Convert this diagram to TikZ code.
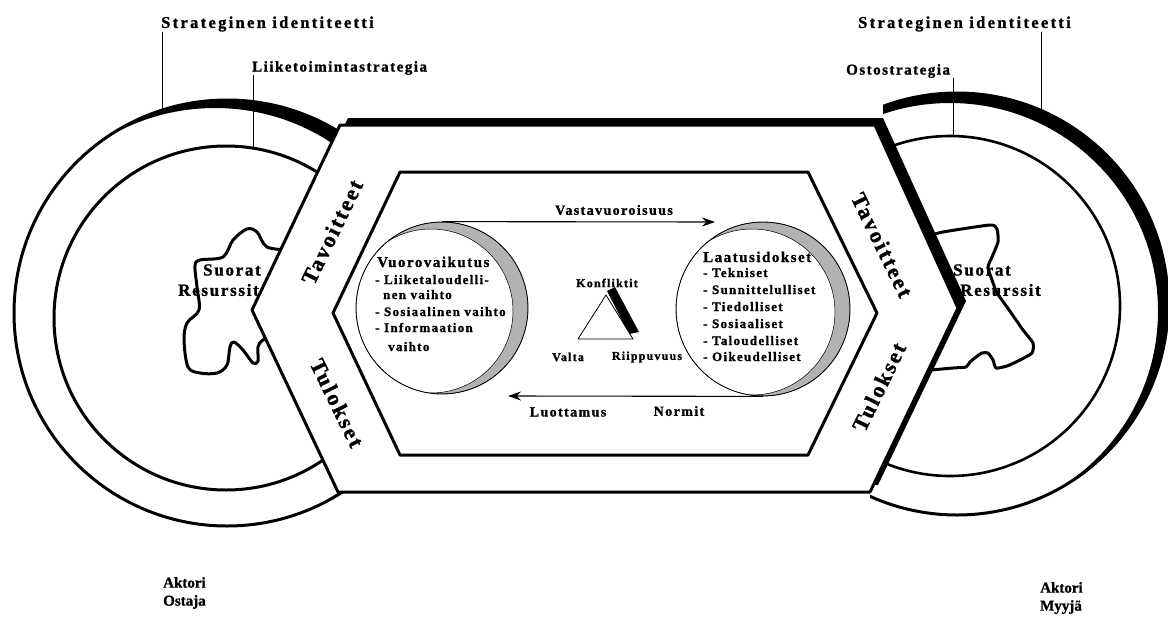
\documentclass[tikz,border=0pt]{standalone}
\usepackage{fontspec}
\setmainfont{Liberation Serif}
\newfontfamily\widebold[LetterSpace=10,BoldFeatures={FakeBold=1.2}]{Liberation Serif}
\newfontfamily\widerbold[LetterSpace=14,BoldFeatures={FakeBold=1.2}]{Liberation Serif}
\newfontfamily\plainbold[BoldFeatures={FakeBold=1}]{Liberation Serif}
\usetikzlibrary{arrows.meta}
\begin{document}
\begin{tikzpicture}[x=1pt,y=-1pt,line join=round,
  ring/.style={line width=3pt},
  leader/.style={line width=0.9pt},
  toplabel/.style={font={\widebold\bfseries\fontsize{15}{18}\selectfont}, inner sep=0pt, anchor=west},
  identity/.style={font={\widerbold\bfseries\fontsize{16.5}{19}\selectfont}, inner sep=0pt, anchor=west},
  resource/.style={font={\widebold\bfseries\fontsize{17}{20}\selectfont}, inner sep=0pt, anchor=west},
  bandlabel/.style={font={\widebold\bfseries\fontsize{22}{26}\selectfont}, inner sep=0pt},
  heading/.style={font={\widebold\bfseries\fontsize{15}{18}\selectfont}, inner sep=0pt, anchor=base west},
  item/.style={font={\widebold\bfseries\fontsize{13}{16}\selectfont}, inner sep=0pt, anchor=base west},
  small/.style={font={\widebold\bfseries\fontsize{12}{14}\selectfont}, inner sep=0pt},
  arrowlabel/.style={font={\widebold\bfseries\fontsize{14}{17}\selectfont}, inner sep=0pt},
  actor/.style={font={\plainbold\bfseries\fontsize{15}{18}\selectfont}, inner sep=0pt, align=left, anchor=north west},
  flow/.style={line width=1.1pt, -{Stealth[length=13pt,width=9pt]}},
  crescent/.style={fill=gray!60, draw=black, line width=0.5pt, even odd rule},
  blob/.style={line width=3pt, line cap=round},
  exchange/.style={draw, circle, line width=0.8pt, inner sep=0pt},
]
\useasboundingbox (0,0) rectangle (1168,627);

% ---------- buyer (left actor) ----------
\begin{scope}
  \clip (227,313) circle[radius=213];
  \fill[black, even odd rule] (227,313) circle[radius=213] (215,320) circle[radius=212];
\end{scope}
\draw[ring] (227,313) circle[radius=213];
\draw[ring] (226,318) circle[radius=172];
\coordinate (pL1) at (162,110);
\coordinate (pL2) at (253,148);

\node[resource] (suoL) at (203,270) {Suorat};
\node[resource] (resL) at (178,290) {Resurssit};
\draw[blob] plot[smooth, tension=0.55] coordinates {
  (290,250) (267,247) (257,232) (247,229) (233,240) (223,257) (200,260) (195,266)
  (197,287) (199,310) (187,323) (184,340) (188,367) (200,373) (217,373) (227,365)
  (230,347) (234,342) (243,350) (253,363) (258,361) (258,347) (263,340) (278,333)};

% ---------- seller (right actor) ----------
\begin{scope}
  \clip (883,-10) -- (1180,-10) -- (1180,640) -- (870,640) -- (870,492) -- (958,308) -- (883,118) -- cycle;
  \begin{scope}
    \clip (957,304) circle[radius=211];
    \fill[black, even odd rule] (957,304) circle[radius=211] (950,311) circle[radius=208];
  \end{scope}
  \draw[ring] (957,304) circle[radius=211];
  \draw[line width=2.6pt] (950,306) circle[radius=170];
  \node[resource] (suoR) at (953,270) {Suorat};
  \node[resource] (resR) at (960,290) {Resurssit};
  \draw[blob] plot[smooth, tension=0.35] coordinates {
    (925,237) (943,232) (990,225) (997,229) (998,242) (992,257) (988,267) (992,280)
    (997,293) (1007,307) (1023,330) (1033,343) (1032,353) (1020,360) (1007,366)
    (996,368) (993,360) (988,353) (982,353) (976,357) (970,362) (966,367) (953,368)
    (920,371)};
\end{scope}
\coordinate (pR1) at (1041,110);
\coordinate (pR2) at (953,136);

% ---------- outer hexagon with its shadow ----------
\coordinate (H1) at (340,125);
\coordinate (H2) at (252,310);
\coordinate (H3) at (338,492);
\coordinate (H4) at (870,492);
\coordinate (H5) at (958,308);
\coordinate (H6) at (875,125);
\fill[black, shift={(8,-7)}] (340,125) -- (252,310) -- (338,492) -- (870,492) -- (958,308) -- (875,125) -- cycle;
\filldraw[fill=white, line width=3pt] (H1) -- (H2) -- (H3) -- (H4) -- (H5) -- (H6) -- cycle;

% ---------- inner hexagon ----------
\coordinate (h1) at (400,172);
\coordinate (h2) at (333,313);
\coordinate (h3) at (400,455);
\coordinate (h4) at (808,455);
\coordinate (h5) at (877,313);
\coordinate (h6) at (808,172);
\draw[line width=3pt] (h1) -- (h2) -- (h3) -- (h4) -- (h5) -- (h6) -- cycle;

% ---------- band labels ----------
\node[bandlabel, rotate=64]  (tavL) at (332,232) {Tavoitteet};
\node[bandlabel, rotate=-64] (tulL) at (337,403) {Tulokset};
\node[bandlabel, rotate=-64] (tavR) at (882,245) {Tavoitteet};
\node[bandlabel, rotate=64]  (tulR) at (879,387) {Tulokset};

% ---------- strategy labels and leaders ----------
\node[identity] (sidL) at (161,24) {Strateginen identiteetti};
\node[toplabel] (lts)  at (252,68) {Liiketoimintastrategia};
\node[identity] (sidR) at (858,24) {Strateginen identiteetti};
\node[toplabel] (oss)  at (846,71) {Ostostrategia};
\draw[leader] (sidL.south west -| pL1) -- (pL1);
\draw[leader] (lts.south west -| pL2) -- (pL2);
\draw[leader] (sidR.south west -| pR1) -- (pR1);
\draw[leader] (oss.south west -| pR2) -- (pR2);

% ---------- interaction circle ----------
\begin{scope}
  \clip (442,308) circle[radius=86];
  \path[crescent] (442,308) circle[radius=86] (431,311) circle[radius=82];
\end{scope}
\node[exchange, minimum size=172pt] (vuoro) at (442,308) {};
\node[heading] (vuoH) at (377,267) {Vuorovaikutus};
\node[item] (vuo1) at (375,284) {- Liiketaloudelli-};
\node[item] (vuo2) at (383,299) {nen vaihto};
\node[item] (vuo3) at (375,316) {- Sosiaalinen vaihto};
\node[item] (vuo4) at (375,332) {- Informaation};
\node[item] (vuo5) at (388,351) {vaihto};

% ---------- quality bonds circle ----------
\begin{scope}
  \clip (763,309) circle[radius=87];
  \path[crescent] (763,309) circle[radius=87] (752,312) circle[radius=83];
\end{scope}
\node[exchange, minimum size=174pt] (laatu) at (763,309) {};
\node[heading] (laaH) at (703,262) {Laatusidokset};
\node[item] (laa1) at (703,277) {- Tekniset};
\node[item] (laa2) at (703,294) {- Sunnittelulliset};
\node[item] (laa3) at (703,311) {- Tiedolliset};
\node[item] (laa4) at (703,328) {- Sosiaaliset};
\node[item] (laa5) at (703,345) {- Taloudelliset};
\node[item] (laa6) at (703,361) {- Oikeudelliset};

% ---------- reciprocity and trust arrows ----------
\coordinate (vend) at (715,222);
\coordinate (lend) at (508,396);
\draw[flow] (vuoro.north) -- (vend);
\draw[flow] (laatu.south) -- (lend);
\node[arrowlabel] (vast) at (614,210) {Vastavuoroisuus};
\node[arrowlabel] (luot) at (568,412) {Luottamus};
\node[arrowlabel] (norm) at (679,411) {Normit};

% ---------- power triangle ----------
\node[small] (konf) at (607,283) {Konfliktit};
\node[small] (valt) at (568,357) {Valta};
\node[small] (riip) at (647,357) {Riippuvuus};
\coordinate (t1) at (606,295);
\coordinate (t2) at (578,339);
\coordinate (t3) at (633,339);
\fill[black] (607,291) -- (615,287) -- (639,332) -- (629,334) -- cycle;
\filldraw[fill=white, line width=0.8pt] (t1) -- (t2) -- (t3) -- cycle;

% ---------- actors ----------
\node[actor] (akL) at (163,577) {Aktori\\Ostaja};
\node[actor] (akR) at (1040,582) {Aktori\\Myyjä};
\end{tikzpicture}
\end{document}
